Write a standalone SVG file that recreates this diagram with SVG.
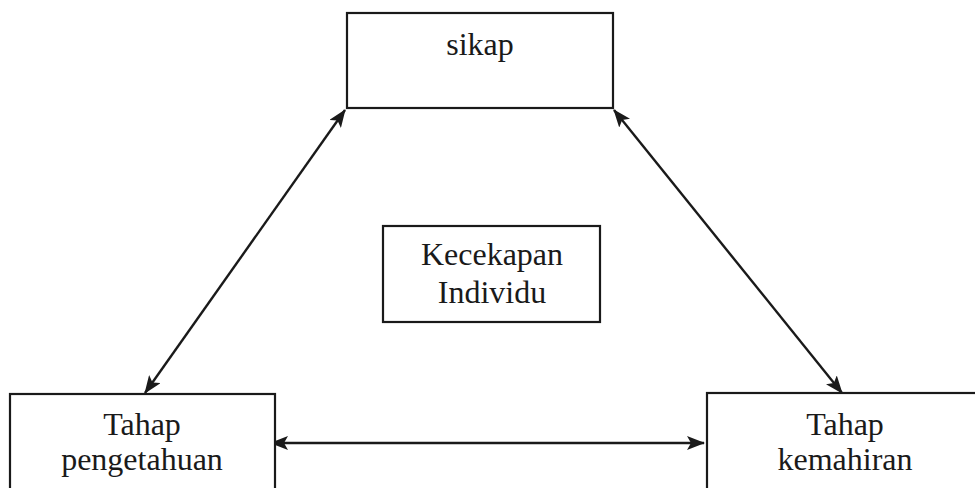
<svg xmlns="http://www.w3.org/2000/svg" width="975" height="488" viewBox="0 0 975 488">
<style>
.box{fill:#fff;stroke:#1a1a1a;stroke-width:2.2}
.lbl{font-family:"Liberation Serif","Times New Roman",serif;font-size:32px;fill:#1a1a1a;text-anchor:middle}
.con{stroke:#1a1a1a;stroke-width:2.4;fill:none;marker-start:url(#ah);marker-end:url(#ah)}
</style>
<defs>
<marker id="ah" viewBox="0 0 18 14" refX="17" refY="7" markerWidth="18" markerHeight="14" markerUnits="userSpaceOnUse" orient="auto-start-reverse">
<path d="M0,0 L18,7 L0,14 L4,7 Z" fill="#1a1a1a"/>
</marker>
</defs>
<rect width="975" height="488" fill="#fff"/>
<g id="connectors">
<line class="con" x1="345" y1="110" x2="145" y2="393"/>
<line class="con" x1="614" y1="110" x2="842" y2="393"/>
<line class="con" x1="271" y1="443" x2="704" y2="443"/>
</g>
<g id="sikap">
<rect class="box" x="347" y="13" width="266" height="95"/>
<text class="lbl" x="480" y="55">sikap</text>
</g>
<g id="kecekapan">
<rect class="box" x="383" y="226" width="217" height="96"/>
<text class="lbl" x="492" y="265">Kecekapan</text>
<text class="lbl" x="492" y="303">Individu</text>
</g>
<g id="pengetahuan">
<rect class="box" x="10" y="394" width="265" height="110"/>
<text class="lbl" x="142" y="435">Tahap</text>
<text class="lbl" x="142" y="470">pengetahuan</text>
</g>
<g id="kemahiran">
<rect class="box" x="707" y="393" width="280" height="110"/>
<text class="lbl" x="845" y="435">Tahap</text>
<text class="lbl" x="845" y="470">kemahiran</text>
</g>
</svg>
